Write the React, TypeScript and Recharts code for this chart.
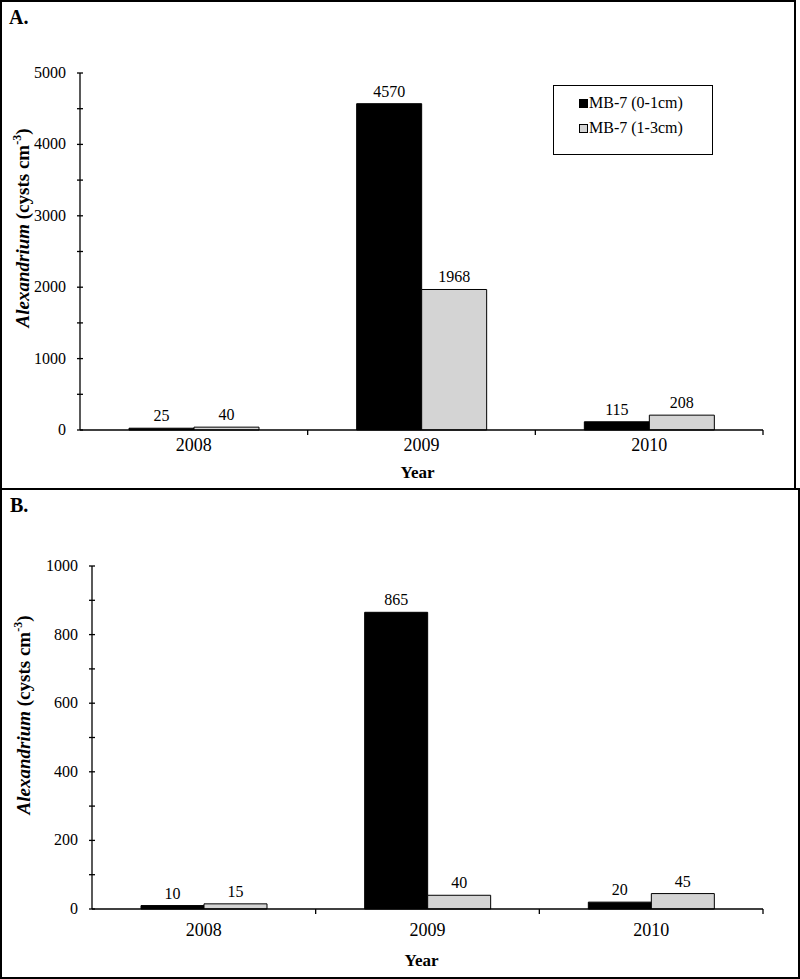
import { BarChart, Bar, XAxis, YAxis, LabelList } from "recharts"

const years = ["2008", "2009", "2010"]
const seriesNames = ["MB-7 (0-1cm)", "MB-7 (1-3cm)"]
const seriesColors = ["#000000", "#d4d4d4"]

// panel A
const topLayerA = [25, 4570, 115]
const deepLayerA = [40, 1968, 208]
const yTicksA = [0, 500, 1000, 1500, 2000, 2500, 3000, 3500, 4000, 4500, 5000]

// panel B
const topLayerB = [10, 865, 20]
const deepLayerB = [15, 40, 45]
const yTicksB = [0, 100, 200, 300, 400, 500, 600, 700, 800, 900, 1000]

const FONT = "'Liberation Serif', 'Times New Roman', serif"

type PanelProps = {
  top: number[]
  deep: number[]
  ticks: number[]
  major: number
  width: number
  height: number
  margin: { top: number; right: number; bottom: number; left: number }
  yAxisWidth: number
  xAxisHeight: number
  barSize: number
  tickLabelDy: number
  yearDy: number
  yearDx: number
  yLabelX: number
  yLabelY: number
}

function Panel(p: PanelProps) {
  const data = years.map((year, i) => ({ year, top: p.top[i], deep: p.deep[i] }))
  const axisX = p.margin.left + p.yAxisWidth
  const axisY = p.height - p.margin.bottom - p.xAxisHeight
  const plotW = p.width - p.margin.right - axisX
  const band = plotW / years.length

  const yTick = (t: any) => {
    const v = t.payload.value
    return (
      <g>
        <line x1={axisX - 3} x2={axisX + 3} y1={t.y} y2={t.y} stroke="#000" strokeWidth={1.3} />
        {v % p.major === 0 && (
          <text x={axisX - 14} y={t.y} dy={5} textAnchor="end" fontSize={16} fontFamily={FONT} fill="#000">
            {v}
          </text>
        )}
      </g>
    )
  }

  const xTick = (t: any) => (
    <g>
      <line x1={t.x + band / 2} x2={t.x + band / 2} y1={axisY} y2={axisY + 5} stroke="#000" strokeWidth={1.3} />
      <text x={t.x} y={axisY + p.tickLabelDy} textAnchor="middle" fontSize={18} fontFamily={FONT} fill="#000">
        {t.payload.value}
      </text>
    </g>
  )

  const valueLabel = (v: any) => (
    <text
      x={v.x + v.width / 2}
      y={v.y - 7}
      textAnchor="middle"
      fontSize={16}
      fontFamily={FONT}
      fill="#000"
    >
      {v.value}
    </text>
  )

  return (
    <BarChart
      width={p.width}
      height={p.height}
      data={data}
      margin={p.margin}
      barGap={0}
      barSize={p.barSize}
    >
      <XAxis
        dataKey="year"
        height={p.xAxisHeight}
        axisLine={{ stroke: "#000", strokeWidth: 1.3 }}
        tickLine={false}
        tick={xTick}
        interval={0}
        label={{
          content: () => (
            <text
              x={axisX + plotW / 2 + p.yearDx}
              y={axisY + p.yearDy}
              textAnchor="middle"
              fontSize={17}
              fontWeight="bold"
              fontFamily={FONT}
              fill="#000"
            >
              Year
            </text>
          ),
        }}
      />
      <XAxis
        xAxisId="frame"
        dataKey="year"
        orientation="top"
        height={0}
        tick={false}
        tickLine={false}
        axisLine={{ stroke: "#000", strokeWidth: 1.3 }}
      />
      <YAxis
        width={p.yAxisWidth}
        domain={[0, p.ticks[p.ticks.length - 1]]}
        ticks={p.ticks}
        interval={0}
        axisLine={{ stroke: "#000", strokeWidth: 1.3 }}
        tickLine={false}
        tick={yTick}
        label={{
          content: () => (
            <text
              transform={`rotate(-90 ${p.yLabelX} ${p.yLabelY})`}
              x={p.yLabelX}
              y={p.yLabelY}
              textAnchor="middle"
              fontSize={19}
              fontWeight="bold"
              fontFamily={FONT}
              fill="#000"
            >
              <tspan fontStyle="italic">Alexandrium</tspan>
              <tspan> (cysts cm</tspan>
              <tspan fontSize={12} dy={-8}>-3</tspan>
              <tspan dy={8}>)</tspan>
            </text>
          ),
        }}
      />
      <YAxis
        yAxisId="frame"
        orientation="right"
        width={0}
        domain={[0, 1]}
        tick={false}
        tickLine={false}
        axisLine={{ stroke: "#000", strokeWidth: 1.3 }}
      />
      <Bar dataKey="top" name={seriesNames[0]} fill={seriesColors[0]} stroke="#000" strokeWidth={1} isAnimationActive={false}>
        <LabelList dataKey="top" content={valueLabel} />
      </Bar>
      <Bar dataKey="deep" name={seriesNames[1]} fill={seriesColors[1]} stroke="#000" strokeWidth={1} isAnimationActive={false}>
        <LabelList dataKey="deep" content={valueLabel} />
      </Bar>
    </BarChart>
  )
}

function LegendBox() {
  return (
    <div
      style={{
        position: "absolute",
        left: 553,
        top: 85,
        width: 160,
        height: 70,
        boxSizing: "border-box",
        border: "1.5px solid #000",
        fontFamily: FONT,
        fontSize: 16,
        background: "#fff",
      }}
    >
      {seriesNames.map((name, i) => (
        <div
          key={name}
          style={{ position: "absolute", left: 25, top: i === 0 ? 8 : 33, display: "flex", alignItems: "center", whiteSpace: "nowrap" }}
        >
          <span
            style={{
              display: "inline-block",
              width: 7,
              height: 7,
              background: seriesColors[i],
              border: "1px solid #000",
              marginRight: 1,
            }}
          />
          {name}
        </div>
      ))}
    </div>
  )
}

export default function App() {
  return (
    <div style={{ position: "absolute", left: 0, top: 0, width: 800, height: 979, background: "#fff" }}>
      {/* panel A */}
      <div style={{ position: "absolute", left: 0, top: 0, width: 796, height: 490, boxSizing: "border-box", border: "2px solid #000" }} />
      <div style={{ position: "absolute", left: 0, top: 0 }}>
        <Panel
          top={topLayerA}
          deep={deepLayerA}
          ticks={yTicksA}
          major={1000}
          width={796}
          height={489}
          margin={{ top: 73, right: 33, bottom: 0, left: 0 }}
          yAxisWidth={80}
          xAxisHeight={59}
          barSize={65}
          tickLabelDy={21}
          yearDy={48}
          yearDx={-4}
          yLabelX={29}
          yLabelY={228}
        />
      </div>
      <div style={{ position: "absolute", left: 9, top: 6, fontFamily: FONT, fontWeight: "bold", fontSize: 20 }}>A.</div>
      <LegendBox />

      {/* panel B */}
      <div style={{ position: "absolute", left: 0, top: 488, width: 800, height: 491, boxSizing: "border-box", border: "2px solid #000" }} />
      <div style={{ position: "absolute", left: 0, top: 488 }}>
        <Panel
          top={topLayerB}
          deep={deepLayerB}
          ticks={yTicksB}
          major={200}
          width={800}
          height={490}
          margin={{ top: 78, right: 37, bottom: 0, left: 0 }}
          yAxisWidth={92}
          xAxisHeight={69}
          barSize={63}
          tickLabelDy={27}
          yearDy={57}
          yearDx={-6}
          yLabelX={30}
          yLabelY={227}
        />
      </div>
      <div style={{ position: "absolute", left: 10, top: 494, fontFamily: FONT, fontWeight: "bold", fontSize: 20 }}>B.</div>
    </div>
  )
}
